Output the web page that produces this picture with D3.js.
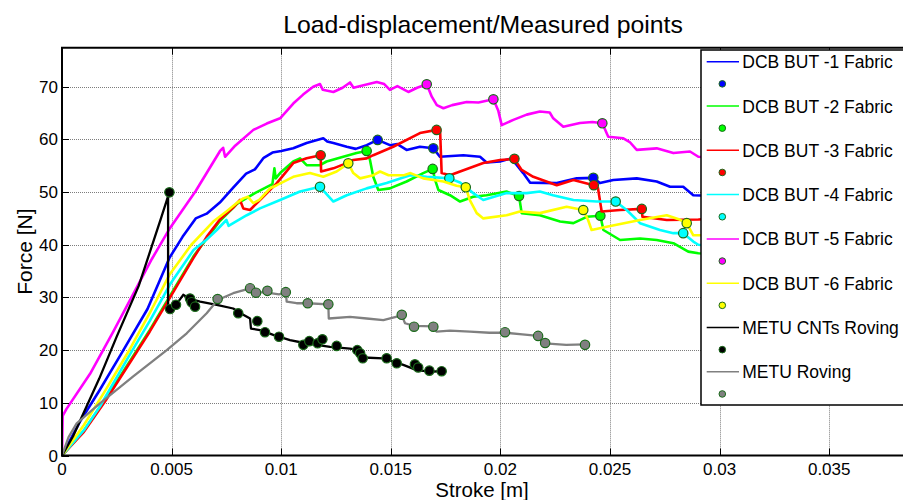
<!DOCTYPE html>
<html>
<head>
<meta charset="utf-8">
<script src="https://cdn.jsdelivr.net/npm/d3@7/dist/d3.min.js"></script>
<style>
  html, body { margin: 0; padding: 0; background: #fff; }
  svg { display: block; font-family: "Liberation Sans", Arial, Helvetica, sans-serif; }
</style>
</head>
<body>
<svg id="chart" width="903" height="500"></svg>
<script>
// ---- data: stroke [m], force [N] ----
const seriesNames = [
  "DCB BUT -1 Fabric", "DCB BUT -2 Fabric", "DCB BUT -3 Fabric",
  "DCB BUT -4 Fabric", "DCB BUT -5 Fabric", "DCB BUT -6 Fabric",
  "METU CNTs Roving", "METU Roving"
];
const lineColors = ["#0000ff", "#00ff00", "#ff0000", "#00ffff", "#ff00ff", "#ffff00", "#000000", "#808080"];

const xTicks = [0, 0.005, 0.01, 0.015, 0.02, 0.025, 0.03, 0.035, 0.04];
const xTickLabels = ["0", "0.005", "0.01", "0.015", "0.02", "0.025", "0.03", "0.035"];
const yTicks = [0, 10, 20, 30, 40, 50, 60, 70];

const but1Line = [[0,0],[0.0008,6.3],[0.0017,12.3],[0.0027,19.3],[0.0039,27.8],[0.0049,37.5],[0.0055,41.5],[0.0061,45.0],[0.0066,45.9],[0.0072,48.0],[0.0078,50.8],[0.0084,53.5],[0.0088,54.3],[0.0092,56.5],[0.0096,57.5],[0.0100,57.8],[0.01055,58.3],[0.01116,59.3],[0.01192,60.2],[0.0121,59.6],[0.01238,59.3],[0.01299,58.6],[0.0134,58.2],[0.0139,58.9],[0.0144,59.9],[0.01496,58.9],[0.0153,59.1],[0.01572,58.0],[0.01633,58.6],[0.01694,58.3],[0.01724,56.7],[0.01831,57.0],[0.01907,56.7],[0.01937,55.6],[0.01998,55.8],[0.02051,56.4],[0.02104,53.6],[0.02135,51.8],[0.02257,51.7],[0.02348,52.6],[0.02424,52.7],[0.02454,51.7],[0.02515,52.3],[0.02622,52.6],[0.02713,52.0],[0.02774,51.0],[0.02834,51.0],[0.0288,49.4],[0.0295,49.3],[0.031,48.8]];
const but1Pts = [[0.0144,59.9],[0.01694,58.3],[0.02424,52.7]];

const but2Line = [[0,0],[0.001,4.7],[0.002,10.8],[0.003,17.3],[0.004,23.8],[0.005,30.8],[0.006,37.8],[0.0072,44.5],[0.0080,47.8],[0.0088,49.8],[0.0096,51.5],[0.00969,54.5],[0.00975,52.6],[0.00995,53.6],[0.01055,55.8],[0.01086,56.4],[0.01116,55.1],[0.01177,55.1],[0.01207,55.8],[0.01283,56.7],[0.01344,57.4],[0.0139,57.8],[0.01405,56.1],[0.0142,52.9],[0.01443,50.4],[0.01496,50.7],[0.01572,52.0],[0.01648,53.6],[0.01691,54.4],[0.01702,52.3],[0.01717,50.4],[0.0177,49.4],[0.01816,48.2],[0.01876,49.1],[0.01937,49.4],[0.02028,50.1],[0.02085,49.25],[0.02097,46.0],[0.0218,45.6],[0.02272,44.4],[0.02333,44.1],[0.02394,45.3],[0.02456,45.5],[0.0247,42.8],[0.02546,40.9],[0.02637,41.2],[0.02713,40.9],[0.02789,40.3],[0.02857,38.7],[0.02903,38.4],[0.031,38.0]];
const but2Pts = [[0.0139,57.8],[0.01691,54.4],[0.02085,49.25],[0.02456,45.5]];

const but3Line = [[0,0],[0.001,4.5],[0.002,10.5],[0.003,17.0],[0.004,23.5],[0.005,30.5],[0.006,37.5],[0.0066,41.5],[0.0072,44.8],[0.0078,47.0],[0.00812,48.5],[0.00827,46.9],[0.00858,46.6],[0.00903,48.5],[0.0098,51.7],[0.01055,55.5],[0.01116,56.4],[0.0118,57.0],[0.01182,53.9],[0.01238,54.5],[0.01299,55.5],[0.01329,56.1],[0.0139,56.4],[0.0142,57.0],[0.01511,58.6],[0.01633,61.2],[0.01709,61.8],[0.01725,61.5],[0.01732,53.6],[0.0177,53.2],[0.01816,53.9],[0.01922,55.5],[0.01998,56.1],[0.02064,56.3],[0.02097,54.2],[0.0215,52.9],[0.02257,51.3],[0.02333,52.3],[0.02426,51.3],[0.02445,50.8],[0.02462,46.3],[0.02546,46.6],[0.02645,46.8],[0.02648,45.3],[0.02759,44.7],[0.02903,44.8],[0.0300,45.0],[0.031,45.2]];
const but3Pts = [[0.0118,57.0],[0.01709,61.8],[0.02064,56.3],[0.02426,51.3],[0.02645,46.8]];

const but4Line = [[0,0],[0.001,4.8],[0.00173,9.3],[0.003,18.5],[0.004,25.5],[0.00493,32.5],[0.006,39.0],[0.0066,41.0],[0.00706,42.8],[0.0075,44.7],[0.0076,43.6],[0.00781,44.1],[0.00843,45.6],[0.00903,46.9],[0.00995,48.5],[0.01086,50.1],[0.01177,51.0],[0.01238,48.2],[0.01299,49.4],[0.0139,50.7],[0.01481,51.7],[0.01588,53.2],[0.01664,52.9],[0.01767,52.6],[0.01816,51.8],[0.01876,49.8],[0.01922,48.5],[0.02028,49.8],[0.0212,49.8],[0.0218,50.1],[0.0224,49.4],[0.02333,48.5],[0.02439,48.2],[0.02526,48.2],[0.02576,46.6],[0.02637,44.1],[0.02728,42.8],[0.02789,42.2],[0.02834,42.2],[0.0288,40.6],[0.02903,40.0],[0.031,39.3]];
const but4Pts = [[0.01177,51.0],[0.01767,52.6],[0.02526,48.2],[0.02834,42.2]];

const but5Line = [[0,0],[0.00003,7.5],[0.0002,8.8],[0.00128,15.5],[0.00234,23.5],[0.0041,37.3],[0.00493,43.2],[0.0061,50.2],[0.00721,57.8],[0.00735,58.4],[0.00744,56.7],[0.0079,58.8],[0.00873,61.8],[0.00934,63.0],[0.00995,64.0],[0.01055,66.8],[0.0110,68.5],[0.01146,70.0],[0.01177,70.5],[0.0119,69.4],[0.01238,69.0],[0.0128,69.8],[0.01314,70.8],[0.0133,69.8],[0.0138,70.3],[0.01436,70.9],[0.0147,70.5],[0.01496,69.4],[0.0153,70.1],[0.0158,69.0],[0.0162,69.8],[0.01664,70.45],[0.01687,68.1],[0.0171,66.5],[0.0174,65.9],[0.0178,66.5],[0.01846,67.1],[0.0190,67.0],[0.01968,67.6],[0.0199,65.5],[0.02006,62.7],[0.02059,63.7],[0.0212,64.7],[0.0218,65.3],[0.02225,65.1],[0.02241,64.0],[0.02287,62.4],[0.02363,63.1],[0.0242,63.3],[0.02465,63.05],[0.02492,60.5],[0.02561,60.2],[0.0259,59.5],[0.02622,58.0],[0.02713,58.3],[0.02789,57.4],[0.02865,57.7],[0.02903,56.7],[0.0300,56.5],[0.031,56.0]];
const but5Pts = [[0.01664,70.45],[0.01968,67.6],[0.02465,63.05]];

const but6Line = [[0,0],[0.001,5.8],[0.002,12.5],[0.003,19.5],[0.004,27.0],[0.0049,34.3],[0.0059,40.0],[0.0069,44.4],[0.0075,46.3],[0.0080,48.0],[0.00827,48.8],[0.00848,49.1],[0.00873,47.9],[0.0090,48.5],[0.00949,50.7],[0.0098,51.3],[0.01055,52.9],[0.01131,53.6],[0.01192,52.9],[0.01253,53.9],[0.01306,55.45],[0.01329,53.6],[0.0136,52.6],[0.0142,53.2],[0.01451,53.9],[0.0149,53.2],[0.0156,53.2],[0.0159,53.6],[0.01648,52.6],[0.0174,52.0],[0.0180,51.2],[0.01842,50.9],[0.0186,48.5],[0.01892,46.0],[0.01922,45.0],[0.02028,45.6],[0.02089,46.3],[0.0218,46.0],[0.02302,47.2],[0.02378,46.6],[0.0240,44.7],[0.02416,42.8],[0.02485,43.4],[0.02637,44.7],[0.02759,45.6],[0.0281,44.9],[0.0285,44.1],[0.0288,41.8],[0.0291,41.8],[0.031,41.5]];
const but6Pts = [[0.01306,55.45],[0.01842,50.9],[0.02378,46.6],[0.0285,44.1]];

const cntLine = [[0,0],[0.0005,3.6],[0.001,8.2],[0.0017,14.6],[0.0025,22.6],[0.0035,32.2],[0.0045,44.8],[0.0049,50.0],[0.00484,49.0],[0.00484,27.6],[0.0050,27.9],[0.0052,28.6],[0.00553,30.5],[0.0058,29.8],[0.0063,29.2],[0.00706,28.6],[0.00781,27.9],[0.00827,26.7],[0.00858,26.0],[0.00862,24.1],[0.00903,23.8],[0.00964,22.9],[0.0104,21.9],[0.0110,21.4],[0.01162,21.0],[0.01223,20.6],[0.01314,20.3],[0.01355,20.0],[0.01375,18.6],[0.01466,18.45],[0.01557,17.2],[0.01618,16.2],[0.01679,15.9],[0.01732,16.0]];
const cntPts = [[0.0049,49.95],[0.00493,27.8],[0.0052,28.6],[0.00584,29.8],[0.00591,29.1],[0.00607,28.25],[0.00804,27.0],[0.00891,25.5],[0.00926,23.4],[0.0099,22.55],[0.01101,21.0],[0.01128,21.7],[0.01166,21.3],[0.01188,22.05],[0.01253,20.8],[0.01347,20.0],[0.0136,19.4],[0.01372,18.45],[0.01481,18.45],[0.01527,17.5],[0.0161,17.3],[0.01625,16.7],[0.01676,16.1],[0.01732,16.0]];

const rovLine = [[0,0],[0.0003,3.5],[0.00067,6.1],[0.00173,9.9],[0.00325,15.0],[0.00478,20.0],[0.00569,23.2],[0.0066,27.0],[0.0071,29.5],[0.00781,30.8],[0.00858,31.7],[0.00885,30.9],[0.0092,31.0],[0.0099,30.6],[0.01021,30.9],[0.01025,29.2],[0.0107,28.9],[0.01121,28.9],[0.01215,28.7],[0.01217,26.0],[0.01314,26.3],[0.0139,26.0],[0.01466,25.7],[0.0155,26.6],[0.01565,25.1],[0.01606,24.6],[0.01694,24.5],[0.01709,23.5],[0.0177,23.7],[0.01861,23.5],[0.0195,23.3],[0.02021,23.3],[0.0210,23.0],[0.02172,22.7],[0.0219,21.5],[0.02204,21.3],[0.0230,21.0],[0.02386,21.1]];
const rovPts = [[0.0071,29.7],[0.00858,31.75],[0.00885,30.9],[0.00937,31.25],[0.01021,31.0],[0.01121,28.9],[0.01215,28.7],[0.0155,26.7],[0.01606,24.45],[0.01694,24.45],[0.02021,23.4],[0.02172,22.7],[0.02204,21.35],[0.02386,21.0]];

const lineData = [but1Line, but2Line, but3Line, but4Line, but5Line, but6Line, cntLine, rovLine];
const pointData = [but1Pts, but2Pts, but3Pts, but4Pts, but5Pts, but6Pts, cntPts, rovPts];

// ---- layout ----
const svg = d3.select("#chart");
const plotL = 62, plotT = 47.7, plotB = 455.5;
const x = d3.scaleLinear().domain([0, 0.04]).range([plotL, plotL + 8 * 109.6]);
const y = d3.scaleLinear().domain([0, 77.4]).range([plotB, plotT]);
const plotR = x(0.04);
const markerEdge = "#1b6a1b";

svg.append("defs").append("clipPath").attr("id", "plotClip")
  .append("rect").attr("x", plotL).attr("y", plotT).attr("width", plotR - plotL).attr("height", plotB - plotT);

// dotted grid
const grid = svg.append("g").attr("stroke", "#7d7d7d").attr("stroke-width", 1).attr("stroke-dasharray", "1 1");
grid.selectAll("line.gx").data(xTicks.filter(d => d > 0)).join("line")
  .attr("x1", d => Math.round(x(d)) + 0.5).attr("x2", d => Math.round(x(d)) + 0.5)
  .attr("y1", plotT).attr("y2", plotB);
grid.selectAll("line.gy").data(yTicks.filter(d => d > 0)).join("line")
  .attr("y1", d => Math.round(y(d)) + 0.5).attr("y2", d => Math.round(y(d)) + 0.5)
  .attr("x1", plotL).attr("x2", plotR);

// series: curve first, then its measured points
const plot = svg.append("g").attr("clip-path", "url(#plotClip)");
const lineGen = d3.line().x(d => x(d[0])).y(d => y(d[1]));
lineData.forEach((data, i) => {
  plot.append("path").datum(data)
    .attr("d", lineGen)
    .attr("fill", "none")
    .attr("stroke", lineColors[i])
    .attr("stroke-width", i >= 6 ? 2.3 : 2.6)
    .attr("stroke-linejoin", "round");
  plot.append("g").selectAll("circle").data(pointData[i]).join("circle")
    .attr("cx", d => x(d[0])).attr("cy", d => y(d[1])).attr("r", 4.7)
    .attr("fill", lineColors[i]).attr("stroke", markerEdge).attr("stroke-width", 1.2);
});

// axes box
const axes = svg.append("g").attr("stroke", "#000").attr("stroke-width", 2);
axes.append("line").attr("x1", plotL).attr("x2", plotL).attr("y1", plotT).attr("y2", plotB + 1);
axes.append("line").attr("x1", plotL - 1).attr("x2", plotR).attr("y1", plotB).attr("y2", plotB);
axes.append("line").attr("x1", plotL - 1).attr("x2", plotR).attr("y1", plotT).attr("y2", plotT);

// inward ticks
const tickLen = 7;
const ticks = svg.append("g").attr("stroke", "#000").attr("stroke-width", 1);
xTicks.forEach(t => {
  const px = Math.round(x(t)) + 0.5;
  ticks.append("line").attr("x1", px).attr("x2", px).attr("y1", plotB).attr("y2", plotB - tickLen);
  ticks.append("line").attr("x1", px).attr("x2", px).attr("y1", plotT).attr("y2", plotT + tickLen);
});
yTicks.forEach(t => {
  const py = Math.round(y(t)) + 0.5;
  ticks.append("line").attr("x1", plotL).attr("x2", plotL + tickLen).attr("y1", py).attr("y2", py);
});

// tick labels
svg.append("g").selectAll("text").data(xTickLabels).join("text")
  .attr("x", (d, i) => x(xTicks[i])).attr("y", plotB + 19)
  .attr("text-anchor", "middle").attr("font-size", 17).attr("fill", "#000")
  .text(d => d);
svg.append("g").selectAll("text").data(yTicks).join("text")
  .attr("x", plotL - 4).attr("y", d => y(d) + 6)
  .attr("text-anchor", "end").attr("font-size", 17).attr("fill", "#000")
  .text(d => d);

// axis labels and title
svg.append("text").attr("x", 482).attr("y", 497).attr("text-anchor", "middle")
  .attr("font-size", 20.5).text("Stroke [m]");
svg.append("text").attr("transform", `translate(32,${(plotT + plotB) / 2}) rotate(-90)`)
  .attr("text-anchor", "middle").attr("font-size", 21).text("Force [N]");
svg.append("text").attr("x", 483).attr("y", 33).attr("text-anchor", "middle")
  .attr("font-size", 24.8).text("Load-displacement/Measured points");

// legend: one row for each curve, one for its points
const lg = svg.append("g");
const lgLeft = 701, lgTop = 50, rowH = 22.15;
lg.append("rect").attr("x", lgLeft).attr("y", lgTop).attr("width", 240).attr("height", 355)
  .attr("fill", "#fff").attr("stroke", "#000").attr("stroke-width", 1.5);
seriesNames.forEach((name, i) => {
  const ly = 61.7 + i * 2 * rowH;
  const my = ly + rowH;
  lg.append("line").attr("x1", 706.7).attr("x2", 739).attr("y1", ly).attr("y2", ly)
    .attr("stroke", lineColors[i]).attr("stroke-width", 1.5);
  lg.append("text").attr("x", 742.3).attr("y", ly + 6.5).attr("font-size", 17.5).text(name);
  lg.append("circle").attr("cx", 722.3).attr("cy", my).attr("r", 3.3)
    .attr("fill", lineColors[i]).attr("stroke", markerEdge).attr("stroke-width", 1);
});
</script>
</body>
</html>
